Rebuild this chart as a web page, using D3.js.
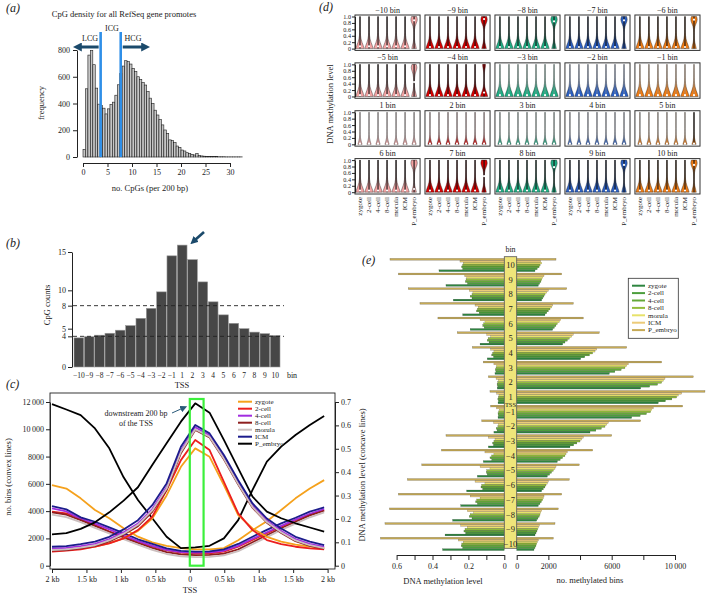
<!DOCTYPE html>
<html>
<head>
<meta charset="utf-8">
<script src="https://cdn.jsdelivr.net/npm/d3@7"></script>
<style>
  body { margin: 0; background: #fff; }
  svg { display: block; font-family: "Liberation Serif", "DejaVu Serif", serif; }
</style>
</head>
<body>
<svg id="fig" width="706" height="595"></svg>
<script>
// ---------- (a) CpG density, bins of 0.5 CpG per 200 bp ----------
const cpgBinSize = 0.5;
const cpgFreq = [57, 510, 762, 795, 690, 515, 395, 385, 365, 322, 360, 392, 410, 462, 540, 625,
  680, 720, 713, 695, 663, 638, 600, 580, 556, 538, 490, 440, 400, 350, 314, 280, 240, 202, 177,
  128, 122, 107, 82, 72, 52, 45, 32, 27, 20, 15, 26, 12, 8, 6, 5, 4, 4, 3, 3, 2, 2, 2, 1, 1, 1, 1, 1, 1, 1];
const icgCuts = [3.6, 7.7];

// ---------- (b) CpG counts per TSS bin ----------
const tssBins = [-10, -9, -8, -7, -6, -5, -4, -3, -2, -1, 1, 2, 3, 4, 5, 6, 7, 8, 9, 10];
const cpgCounts = [3.8, 3.95, 4.15, 4.4, 4.8, 5.4, 6.35, 7.65, 9.8, 14.5, 15.9, 14.0, 11.1, 8.5,
  6.8, 5.7, 5.0, 4.55, 4.35, 4.1];
const cpgRefLines = [4, 8];

// ---------- (c) profiles around the TSS ----------
const stages = ["zygote", "2-cell", "4-cell", "8-cell", "morula", "ICM", "P_embryo"];
const stageLineColors = ["#f5a11c", "#ec1f1f", "#a12de0", "#8e1f1f", "#cbbfbf", "#1c1c8c", "#000000"];
// convex lines: no. bins
const binsZygote = [1100, 1150, 1250, 1400, 1650, 2000, 2550, 3450, 5150, 7250, 8600, 7980, 5900, 3710, 2730, 2120, 1760, 1550, 1400, 1300];
const bins2cell = [1040, 1100, 1200, 1390, 1630, 2000, 2610, 3590, 5540, 7740, 9210, 8480, 6150, 3830, 2610, 1880, 1590, 1390, 1270, 1200];
const bins4cell = [1250, 1300, 1430, 1600, 1950, 2450, 3100, 4150, 5750, 8450, 10150, 9550, 7950, 6100, 4400, 3300, 2550, 1950, 1600, 1380];
const bins8cell = [1100, 1150, 1280, 1450, 1780, 2280, 2900, 3950, 5550, 8250, 9950, 9400, 7800, 5950, 4250, 3150, 2400, 1800, 1450, 1250];
const binsMorula = [1150, 1200, 1330, 1500, 1850, 2350, 3000, 4050, 5650, 8350, 10000, 9450, 7850, 6000, 4300, 3200, 2450, 1850, 1500, 1280];
const binsICM = [1390, 1440, 1580, 1760, 2120, 2660, 3340, 4440, 6030, 8720, 10310, 9700, 8110, 6270, 4560, 3460, 2730, 2120, 1760, 1510];
const binsPEmbryo = [2300, 2390, 2700, 3180, 3910, 4770, 5750, 7380, 8970, 10560, 11900, 11220, 9220, 7140, 5060, 3960, 3480, 3110, 2800, 2500];
// concave lines: DNA methylation level
const methZygote = [0.345, 0.33, 0.288, 0.238, 0.203, 0.16, 0.124, 0.1, 0.085, 0.075, 0.07, 0.07, 0.075, 0.109, 0.152, 0.19, 0.238, 0.288, 0.33, 0.366];
const meth2cell = [0.231, 0.224, 0.203, 0.174, 0.146, 0.124, 0.103, 0.084, 0.067, 0.056, 0.053, 0.053, 0.06, 0.081, 0.11, 0.139, 0.167, 0.196, 0.217, 0.238];
const meth4cell = [0.245, 0.232, 0.2, 0.18, 0.155, 0.13, 0.105, 0.085, 0.068, 0.058, 0.056, 0.057, 0.064, 0.085, 0.115, 0.143, 0.17, 0.197, 0.222, 0.242];
const meth8cell = [0.228, 0.218, 0.195, 0.17, 0.145, 0.12, 0.097, 0.076, 0.058, 0.048, 0.045, 0.046, 0.052, 0.07, 0.1, 0.13, 0.16, 0.188, 0.215, 0.235];
const methMorula = [0.218, 0.208, 0.186, 0.162, 0.138, 0.113, 0.09, 0.068, 0.05, 0.04, 0.037, 0.038, 0.044, 0.062, 0.092, 0.122, 0.153, 0.18, 0.207, 0.228];
const methICM = [0.255, 0.241, 0.207, 0.188, 0.164, 0.139, 0.113, 0.093, 0.074, 0.063, 0.06, 0.061, 0.07, 0.093, 0.124, 0.153, 0.181, 0.205, 0.231, 0.249];
const methPEmbryo = [0.691, 0.668, 0.644, 0.587, 0.502, 0.378, 0.281, 0.203, 0.124, 0.075, 0.078, 0.085, 0.117, 0.195, 0.324, 0.445, 0.509, 0.559, 0.602, 0.64];

// ---------- (d) violins ----------
const dColors = ["#f3a3a3", "#d70000", "#1fae84", "#2b5fc2", "#f07c14"];
const violinLevels = [0, 0.1, 0.2, 0.3, 0.4, 0.5, 0.6, 0.7, 0.8, 0.9, 1];
const violinShapes = {
  low:      [1.0, 0.78, 0.45, 0.24, 0.13, 0.08, 0.06, 0.05, 0.05, 0.04, 0.03],
  top:      [0.55, 0.38, 0.16, 0.08, 0.06, 0.07, 0.1, 0.22, 0.55, 0.85, 0.6],
  topSmall: [0.9, 0.65, 0.35, 0.16, 0.08, 0.05, 0.05, 0.06, 0.12, 0.3, 0.35],
  mid:      [0.6, 0.42, 0.2, 0.1, 0.08, 0.1, 0.14, 0.24, 0.5, 0.75, 0.5],
  thin:     [0.5, 0.28, 0.1, 0.04, 0.03, 0.02, 0.02, 0.02, 0.02, 0.02, 0.02]
};
const dOtherShape = ["low", "low", "low", "low", "low", "low", "low", "low", "low", "low",
  "thin", "thin", "thin", "thin", "thin", "low", "low", "low", "low", "low"];
const dOtherMedian = [0.07, 0.05, 0.05, 0.05, 0.05, 0.04, 0.04, 0.04, 0.04, 0.04,
  0.02, 0.02, 0.02, 0.02, 0.02, 0.05, 0.05, 0.05, 0.05, 0.05];
const dPShape = ["top", "top", "top", "top", "top", "mid", "topSmall", "low", "low", "low",
  "thin", "thin", "thin", "thin", "thin", "top", "top", "top", "top", "top"];
const dPMedian = [0.88, 0.92, 0.85, 0.88, 0.9, 0.45, 0.12, 0.04, 0.04, 0.04,
  0.02, 0.02, 0.02, 0.02, 0.02, 0.1, 0.5, 0.78, 0.85, 0.85];
const dDarkWhisker = [1, 1, 1, 1, 1, 1, 1, 0, 0, 0, 0, 0, 0, 0, 0, 1, 1, 1, 1, 1];

// ---------- (e) bars per bin ----------
const eGroups = ["10", "9", "8", "7", "6", "5", "4", "3", "2", "1",
  "\u22121", "\u22122", "\u22123", "\u22124", "\u22125", "\u22126", "\u22127", "\u22128", "\u22129", "\u221210"];
const eColors = ["#2e8540", "#4c9e3c", "#64a838", "#93bd3c", "#e7e26a", "#eccb79", "#c6aa55"];
const eMethZygote = [0.364, 0.325, 0.284, 0.232, 0.19, 0.135, 0.095, 0.052, 0.039, 0.035, 0.035, 0.058, 0.089, 0.117, 0.15, 0.21, 0.243, 0.288, 0.33, 0.344];
const eMeth2cell = [0.232, 0.205, 0.18, 0.14, 0.112, 0.085, 0.06, 0.047, 0.037, 0.033, 0.033, 0.04, 0.06, 0.07, 0.095, 0.12, 0.15, 0.18, 0.215, 0.232];
const eMeth4cell = [0.238, 0.217, 0.19, 0.155, 0.12, 0.095, 0.07, 0.05, 0.04, 0.036, 0.035, 0.045, 0.065, 0.08, 0.1, 0.13, 0.16, 0.195, 0.225, 0.24];
const eMeth8cell = [0.232, 0.213, 0.18, 0.15, 0.117, 0.09, 0.065, 0.046, 0.037, 0.033, 0.032, 0.036, 0.058, 0.071, 0.098, 0.126, 0.154, 0.19, 0.219, 0.237];
const eMethMorula = [0.228, 0.21, 0.175, 0.145, 0.108, 0.076, 0.058, 0.043, 0.033, 0.03, 0.028, 0.033, 0.052, 0.058, 0.08, 0.108, 0.135, 0.172, 0.206, 0.228];
const eMethICM = [0.247, 0.22, 0.195, 0.163, 0.135, 0.098, 0.076, 0.058, 0.046, 0.043, 0.043, 0.06, 0.089, 0.108, 0.135, 0.163, 0.19, 0.206, 0.243, 0.256];
const eMethPEmbryo = [0.637, 0.59, 0.535, 0.47, 0.37, 0.262, 0.178, 0.117, 0.089, 0.08, 0.076, 0.126, 0.325, 0.35, 0.46, 0.54, 0.59, 0.64, 0.665, 0.69];
const eBinsZygote = [1158, 1368, 1579, 1789, 2273, 2905, 4042, 5852, 7831, 8947, 7262, 4631, 3368, 2568, 1936, 1578, 1368, 1263, 1158, 1094];
const eBins2cell = [1300, 1450, 1650, 1900, 2380, 3050, 4300, 6200, 8400, 9400, 7800, 5000, 3600, 2750, 2080, 1680, 1470, 1340, 1220, 1160];
const eBins4cell = [1420, 1530, 1720, 2000, 2480, 3200, 4600, 6600, 8900, 9800, 8200, 5350, 3800, 2900, 2200, 1780, 1560, 1420, 1280, 1220];
const eBins8cell = [1480, 1579, 1790, 2105, 2570, 3326, 4800, 6842, 9157, 10105, 8463, 5579, 4000, 3050, 2315, 1850, 1640, 1473, 1326, 1263];
const eBinsMorula = [1580, 1642, 1895, 2210, 2695, 3473, 4947, 6947, 9263, 10210, 8526, 5684, 4105, 3115, 2420, 1936, 1684, 1515, 1368, 1305];
const eBinsICM = [1516, 1726, 2000, 2273, 2779, 3578, 5052, 7052, 9368, 10420, 8631, 5789, 4210, 3200, 2484, 2000, 1726, 1578, 1431, 1368];
const eBinsPEmbryo = [2484, 2842, 3158, 3579, 4210, 5220, 6947, 9157, 11157, 11894, 10483, 7831, 6000, 4800, 3957, 3326, 2842, 2631, 2420, 2315];

// ================= drawing =================
const svg = d3.select("#fig");
const FONT = '"Liberation Serif", "DejaVu Serif", serif';
const INK = "#222";
const minus = v => (v < 0 ? "\u2212" + Math.abs(v) : String(v));
const thousands = d => (d >= 10000 ? String(d).slice(0, 2) + "\u2009" + String(d).slice(2) : String(d));

svg.append("rect").attr("width", 706).attr("height", 595).attr("fill", "#fff");

function text(g, x, y, s, size, anchor, rotate) {
  const t = g.append("text").attr("font-size", size)
    .attr("text-anchor", anchor || "middle").attr("fill", INK);
  if (rotate) t.attr("transform", `translate(${x},${y}) rotate(${rotate})`);
  else t.attr("x", x).attr("y", y);
  return t.text(s);
}
function styleAxis(g, size) {
  g.attr("font-family", FONT).attr("font-size", size);
  g.selectAll("path.domain").attr("stroke", INK);
  g.selectAll(".tick line").attr("stroke", INK);
  g.selectAll(".tick text").attr("fill", INK);
}

const defs = svg.append("defs");
function marker(id, color, size) {
  defs.append("marker").attr("id", id)
    .attr("viewBox", "0 0 10 10").attr("refX", 2).attr("refY", 5)
    .attr("markerWidth", size).attr("markerHeight", size)
    .attr("orient", "auto")
    .append("path").attr("d", "M0,0L10,5L0,10z").attr("fill", color);
}
marker("headBig", "#1b4a6b", 3);
marker("headSmall", "#2a5a7a", 7);

// panel letters
[["(a)", 6, 12], ["(b)", 6, 247], ["(c)", 6, 388], ["(d)", 319, 11], ["(e)", 362, 264]]
  .forEach(([s, x, y]) => text(svg, x, y, s, 12, "start").attr("font-style", "italic"));

// ---------- (a) ----------
{
  const g = svg.append("g");
  const x = d3.scaleLinear().domain([0, 30]).range([83, 230]);
  const y = d3.scaleLinear().domain([0, 800]).range([157, 50]);

  g.selectAll("rect.bar").data(cpgFreq).join("rect").attr("class", "bar")
    .attr("x", (d, i) => x(i * cpgBinSize))
    .attr("width", x(cpgBinSize) - x(0))
    .attr("y", d => y(d))
    .attr("height", d => y(0) - y(d))
    .attr("fill", "#c6c6c6").attr("stroke", "#1c1c1c").attr("stroke-width", 0.6);

  g.append("g").attr("transform", "translate(0,163)")
    .call(d3.axisBottom(x).tickValues([0, 5, 10, 15, 20, 25, 30]).tickSize(4).tickSizeOuter(0).tickPadding(2))
    .call(styleAxis, 8);
  g.append("g").attr("transform", "translate(77,0)")
    .call(d3.axisLeft(y).tickValues([0, 200, 400, 600, 800]).tickSize(4).tickSizeOuter(0).tickPadding(3))
    .call(styleAxis, 8);

  g.selectAll("line.cut").data(icgCuts).join("line").attr("class", "cut")
    .attr("x1", d => x(d)).attr("x2", d => x(d))
    .attr("y1", 32).attr("y2", y(0))
    .attr("stroke", "#2f8fe8").attr("stroke-width", 2.6);

  g.append("line").attr("x1", x(icgCuts[0]) - 2).attr("x2", 80).attr("y1", 47).attr("y2", 47)
    .attr("stroke", "#1b4a6b").attr("stroke-width", 3).attr("marker-end", "url(#headBig)");
  g.append("line").attr("x1", x(icgCuts[1]) + 2).attr("x2", 143).attr("y1", 47).attr("y2", 47)
    .attr("stroke", "#1b4a6b").attr("stroke-width", 3).attr("marker-end", "url(#headBig)");

  text(g, 90, 41, "LCG", 8);
  text(g, 112, 31, "ICG", 8);
  text(g, 133, 41, "HCG", 8);
  text(g, 124, 17, "CpG density for all RefSeq gene promotes", 8.5);
  text(g, 44, 103, "frequency", 8.5, "middle", -90);
  text(g, 150, 190.5, "no. CpGs (per 200 bp)", 8.5);
}

// ---------- (b) ----------
{
  const g = svg.append("g");
  const x = d3.scaleBand().domain(tssBins).range([74, 280]).paddingInner(0.06);
  const y = d3.scaleLinear().domain([0, 15]).range([367, 252]);

  g.selectAll("rect").data(cpgCounts).join("rect")
    .attr("x", (d, i) => x(tssBins[i]))
    .attr("width", x.bandwidth())
    .attr("y", d => y(d))
    .attr("height", d => y(0) - y(d))
    .attr("fill", "#474747").attr("stroke", "#9a9a9a").attr("stroke-width", 0.6);

  g.selectAll("line.ref").data(cpgRefLines).join("line").attr("class", "ref")
    .attr("x1", 73).attr("x2", 284)
    .attr("y1", d => y(d)).attr("y2", d => y(d))
    .attr("stroke", INK).attr("stroke-width", 0.9).attr("stroke-dasharray", "4,3");

  g.append("g").attr("transform", "translate(72,0)")
    .call(d3.axisLeft(y).tickValues([0, 4, 5, 8, 10, 15]).tickSize(4).tickSizeOuter(0).tickPadding(2))
    .call(styleAxis, 8);

  g.selectAll("text.xl").data(tssBins).join("text").attr("class", "xl")
    .attr("x", d => x(d) + x.bandwidth() / 2).attr("y", 378)
    .attr("text-anchor", "middle").attr("font-size", 7.5).attr("fill", INK)
    .text(d => minus(d));
  text(g, 292, 378, "bin", 8);
  text(g, 182, 388, "TSS", 8.5);
  text(g, 50, 305, "CpG counts", 8.5, "middle", -90);

  g.append("line").attr("x1", 204).attr("y1", 232).attr("x2", 195).attr("y2", 240)
    .attr("stroke", "#1b4a6b").attr("stroke-width", 2.6).attr("marker-end", "url(#headBig)");
}

// ---------- (c) ----------
{
  const g = svg.append("g");
  const xbp = d3.scaleLinear().domain([-2000, 2000]).range([52, 327.6]);
  const xb = d3.scalePoint().domain(tssBins).range([xbp(-2000), xbp(1950)]);
  const yL = d3.scaleLinear().domain([0, 12000]).range([565.7, 402]);
  const yR = d3.scaleLinear().domain([0, 0.7]).range([565.7, 402]);

  g.append("rect").attr("x", 50).attr("y", 393).attr("width", 285).attr("height", 176)
    .attr("fill", "none").attr("stroke", INK).attr("stroke-width", 0.9);

  g.append("g").attr("transform", "translate(0,569)")
    .call(d3.axisBottom(xbp).tickValues([-2000, -1500, -1000, -500, 0, 500, 1000, 1500, 2000])
      .tickFormat(d => (d === 0 ? "0" : Math.abs(d) / 1000 + " kb")).tickSize(4).tickSizeOuter(0).tickPadding(3))
    .call(styleAxis, 8);
  g.append("g").attr("transform", "translate(50,0)")
    .call(d3.axisLeft(yL).tickValues([0, 2000, 4000, 6000, 8000, 10000, 12000])
      .tickFormat(thousands).tickSize(4).tickSizeOuter(0).tickPadding(2))
    .call(styleAxis, 8);
  g.append("g").attr("transform", "translate(335,0)")
    .call(d3.axisRight(yR).tickValues([0, 0.1, 0.2, 0.3, 0.4, 0.5, 0.6, 0.7])
      .tickFormat(d => (d === 0 ? "0" : d3.format(".1f")(d))).tickSize(4).tickSizeOuter(0).tickPadding(2))
    .call(styleAxis, 8);

  const convex = [binsZygote, bins2cell, bins4cell, bins8cell, binsMorula, binsICM, binsPEmbryo];
  const concave = [methZygote, meth2cell, meth4cell, meth8cell, methMorula, methICM, methPEmbryo];
  const lineL = d3.line().x((d, i) => xb(tssBins[i])).y(d => yL(d));
  const lineR = d3.line().x((d, i) => xb(tssBins[i])).y(d => yR(d));

  stages.forEach((s, k) => {
    g.append("path").attr("d", lineR(concave[k])).attr("fill", "none")
      .attr("stroke", stageLineColors[k]).attr("stroke-width", 1.8).attr("stroke-linejoin", "round");
  });
  stages.forEach((s, k) => {
    g.append("path").attr("d", lineL(convex[k])).attr("fill", "none")
      .attr("stroke", stageLineColors[k]).attr("stroke-width", 1.8).attr("stroke-linejoin", "round");
  });

  g.append("rect").attr("x", xbp(0)).attr("y", 399)
    .attr("width", xbp(200) - xbp(0)).attr("height", 565.7 - 399)
    .attr("fill", "none").attr("stroke", "#3cf03c").attr("stroke-width", 2.2);

  const lg = g.append("g");
  stages.forEach((s, k) => {
    const yy = 401.7 + k * 7;
    lg.append("line").attr("x1", 238).attr("x2", 252).attr("y1", yy).attr("y2", yy)
      .attr("stroke", stageLineColors[k]).attr("stroke-width", 2);
    text(lg, 255, yy, s, 7, "start").attr("dy", "0.32em");
  });

  text(g, 136, 415.5, "downstream 200 bp", 8);
  text(g, 136, 425.5, "of the TSS", 8);
  g.append("line").attr("x1", 172).attr("y1", 413).attr("x2", 182).attr("y2", 408.5)
    .attr("stroke", "#2a5a7a").attr("stroke-width", 1).attr("marker-end", "url(#headSmall)");

  text(g, 190, 593, "TSS", 8.5);
  text(g, 11, 477, "no. bins (convex lines)", 8.5, "middle", -90);
  text(g, 365, 475, "DNA methylation level (concave lines)", 8.5, "middle", -90);
}

// ---------- (d) ----------
{
  const g = svg.append("g");
  const colX = d3.scaleBand().domain([0, 1, 2, 3, 4]).range([355, 700]).paddingInner(0.07);
  const rowY = d3.scaleBand().domain([0, 1, 2, 3]).range([15, 194]).paddingInner(0.26);
  const dW = colX.bandwidth(), dH = rowY.bandwidth();

  tssBins.forEach((bin, p) => {
    const row = Math.floor(p / 5), col = p % 5;
    const left = colX(col), top = rowY(row);
    const vy = d3.scaleLinear().domain([0, 1]).range([top + dH - 1.8, top + 1.5]);
    const vx = d3.scalePoint().domain(stages).range([left + 5, left + dW - 6]);
    const hw = 4.2;
    const pg = g.append("g");

    stages.forEach((s, k) => {
      const isP = s === "P_embryo";
      const shape = violinShapes[isP ? dPShape[p] : dOtherShape[p]];
      const med = isP ? dPMedian[p] : dOtherMedian[p];
      const cx = vx(s);
      const area = d3.area().curve(d3.curveBasis)
        .y((d, j) => vy(violinLevels[j]))
        .x0(d => cx - d * hw).x1(d => cx + d * hw);
      const dark = dDarkWhisker[p] || (isP && col >= 4 && row === 2);
      pg.append("path").attr("d", area(shape))
        .attr("fill", dColors[col]).attr("stroke", "#1a1a1a").attr("stroke-width", 0.4);
      pg.append("line").attr("x1", cx).attr("x2", cx).attr("y1", vy(0)).attr("y2", vy(1))
        .attr("stroke", dark ? "#111" : "#8a8a8a").attr("stroke-width", dark ? 1.1 : 0.7);
      pg.append("circle").attr("cx", cx).attr("cy", vy(med)).attr("r", 1.1).attr("fill", "#fff");
    });

    pg.append("rect").attr("x", left).attr("y", top).attr("width", dW).attr("height", dH)
      .attr("fill", "none").attr("stroke", "#333").attr("stroke-width", 1);
    text(pg, left + dW / 2, top - 2.5, minus(bin) + " bin", 8);

    if (col === 0) {
      pg.append("g").attr("transform", `translate(${left},0)`)
        .call(d3.axisLeft(vy).tickValues([0, 0.2, 0.4, 0.6, 0.8, 1])
          .tickFormat(d => (d === 0 ? "0" : d3.format(".1f")(d))).tickSize(3).tickSizeOuter(0).tickPadding(1))
        .call(styleAxis, 6.2);
    }
    if (row === 3) {
      stages.forEach(s => {
        text(pg, vx(s) + 2.4, top + dH + 3, s, 7, "end", -90);
      });
    }
  });
  text(g, 333, 104, "DNA methylation level", 8.5, "middle", -90);
}

// ---------- (e) ----------
{
  const g = svg.append("g");
  const stagesTopDown = stages.slice().reverse();
  const yg = d3.scaleBand().domain(eGroups).range([257.66, 551.26]).paddingInner(0.1).paddingOuter(0.05);
  const ys = d3.scaleBand().domain(stagesTopDown).range([0, yg.bandwidth()]).paddingInner(0.06);
  const xl = d3.scaleLinear().domain([0, 0.6]).range([504.3, 396.6]);
  const xr = d3.scaleLinear().domain([0, 10000]).range([516.7, 675]);

  const meth = [eMethZygote, eMeth2cell, eMeth4cell, eMeth8cell, eMethMorula, eMethICM, eMethPEmbryo];
  const bins = [eBinsZygote, eBins2cell, eBins4cell, eBins8cell, eBinsMorula, eBinsICM, eBinsPEmbryo];

  stages.forEach((s, k) => {
    const rowsL = meth[k].map((v, i) => ({ grp: eGroups[i], v }));
    const rowsR = bins[k].map((v, i) => ({ grp: eGroups[i], v }));
    g.append("g").selectAll("rect").data(rowsL).join("rect")
      .attr("x", d => xl(d.v)).attr("width", d => xl(0) - xl(d.v))
      .attr("y", d => yg(d.grp) + ys(s)).attr("height", ys.bandwidth())
      .attr("fill", eColors[k]).attr("stroke", "rgba(0,0,0,0.45)").attr("stroke-width", 0.35);
    g.append("g").selectAll("rect").data(rowsR).join("rect")
      .attr("x", xr(0)).attr("width", d => xr(d.v) - xr(0))
      .attr("y", d => yg(d.grp) + ys(s)).attr("height", ys.bandwidth())
      .attr("fill", eColors[k]).attr("stroke", "rgba(0,0,0,0.45)").attr("stroke-width", 0.35);
  });

  g.append("rect").attr("x", xl(0)).attr("y", 256.7).attr("width", xr(0) - xl(0)).attr("height", 548.3 - 256.7)
    .attr("fill", "#efe57a").attr("stroke", "#555").attr("stroke-width", 0.8);
  const cx = (xl(0) + xr(0)) / 2;
  eGroups.forEach(grp => {
    text(g, cx, yg(grp) + yg.bandwidth() / 2, grp, 8.5).attr("dy", "0.35em");
  });
  text(g, cx, (yg("1") + yg("\u22121") + yg.bandwidth()) / 2, "TSS", 6.5).attr("dy", "0.35em");
  text(g, cx, 252, "bin", 8);

  g.append("g").attr("transform", "translate(0,555)")
    .call(d3.axisBottom(xl).tickValues([0, 0.1, 0.2, 0.3, 0.4, 0.5, 0.6])
      .tickFormat((d, i) => (i % 2 ? "" : d === 0 ? "0" : d3.format(".1f")(d))).tickSize(5).tickSizeOuter(0).tickPadding(3))
    .call(styleAxis, 8);
  g.append("g").attr("transform", "translate(0,555)")
    .call(d3.axisBottom(xr).tickValues([0, 2000, 4000, 6000, 8000, 10000])
      .tickFormat(d => ([0, 2000, 6000, 10000].includes(d) ? thousands(d) : "")).tickSize(5).tickSizeOuter(0).tickPadding(3))
    .call(styleAxis, 8);

  text(g, 443, 584, "DNA methylation level", 8.5);
  text(g, 590, 583, "no. methylated bins", 8.5);

  const lg = g.append("g");
  lg.append("rect").attr("x", 628.3).attr("y", 278.3).attr("width", 50).attr("height", 60)
    .attr("fill", "#fff").attr("stroke", "#333").attr("stroke-width", 0.8);
  stages.forEach((s, k) => {
    const yy = 285.7 + k * 7.4;
    lg.append("line").attr("x1", 632).attr("x2", 645).attr("y1", yy).attr("y2", yy)
      .attr("stroke", eColors[k]).attr("stroke-width", 2);
    text(lg, 648, yy, s, 7, "start").attr("dy", "0.32em");
  });
}
</script>
</body>
</html>
